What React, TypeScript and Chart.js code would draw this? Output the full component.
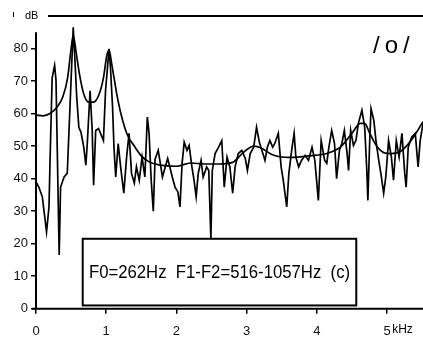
import { useEffect, useRef } from "react";
import { Chart, registerables } from "chart.js";
Chart.register(...registerables);

// Spectrum (jagged) – frequency in kHz, level in dB
const specFreq = [
  0.0, 0.04, 0.09, 0.15, 0.185, 0.2, 0.23, 0.265, 0.285, 0.33, 0.35, 0.4, 0.445, 0.48, 0.53, 0.55, 0.58, 0.61, 0.64, 0.68,
  0.71, 0.73, 0.77, 0.8, 0.82, 0.85, 0.89, 0.96, 0.99, 1.04, 1.06, 1.09, 1.11, 1.135, 1.17, 1.205, 1.25, 1.29, 1.325, 1.36,
  1.4, 1.43, 1.47, 1.51, 1.55, 1.585, 1.61, 1.64, 1.67, 1.695, 1.74, 1.77, 1.8, 1.84, 1.875, 1.91, 1.94, 1.98, 2.02, 2.05,
  2.08, 2.11, 2.15, 2.18, 2.22, 2.25, 2.28, 2.31, 2.35, 2.38, 2.43, 2.46, 2.49, 2.51, 2.55, 2.6, 2.645, 2.68, 2.72, 2.76,
  2.8, 2.835, 2.88, 2.93, 2.98, 3.01, 3.05, 3.1, 3.14, 3.18, 3.23, 3.26, 3.295, 3.33, 3.37, 3.4, 3.45, 3.49, 3.52, 3.57,
  3.6, 3.64, 3.675, 3.7, 3.74, 3.78, 3.83, 3.88, 3.93, 3.97, 4.02, 4.06, 4.11, 4.14, 4.17, 4.21, 4.25, 4.28, 4.32, 4.355,
  4.39, 4.43, 4.45, 4.48, 4.52, 4.555, 4.59, 4.64, 4.68, 4.71, 4.725, 4.75, 4.77, 4.81, 4.84, 4.88, 4.91, 4.95, 4.98, 5.02,
  5.06, 5.09, 5.13, 5.17, 5.21, 5.25, 5.27, 5.3, 5.35, 5.4, 5.44, 5.47, 5.51,
];
const specDb = [
  39.0, 37.4, 34.4, 23.6, 31.3, 45.6, 71, 74.8, 70.2, 16.5, 37.4, 40.5, 41.6, 60, 86.5, 78.4, 65, 55.8, 54.3, 49.7,
  44.1, 50.8, 67, 55, 38, 54.8, 55.4, 51.7, 67, 79.9, 74.2, 62, 49.7, 40.5, 50.8, 43.6, 35.5, 46.6, 53.9, 41.6,
  38.6, 43.6, 39.5, 46.6, 40.5, 58.9, 53.9, 39.5, 30, 46, 48.7, 44.7, 40.5, 43.6, 46.2, 43.2, 40.5, 37.4, 35.9, 31.3,
  44.7, 51.2, 48.7, 50.2, 43.6, 39.5, 34.4, 41.6, 45.6, 40.5, 43.6, 42.5, 21.5, 42.5, 47.7, 49.7, 51.7, 37.4, 46.6, 43.6,
  35.5, 43.6, 47.7, 48.7, 46.2, 42.5, 47.7, 49.7, 55.8, 51.2, 47.7, 45.6, 49.7, 51.7, 49.7, 50.8, 53.9, 43.6, 39.5, 31.3,
  41.6, 48.7, 53.9, 46.6, 43.6, 45.6, 47.1, 45.6, 49.7, 45.6, 33.3, 51.7, 45.6, 44.7, 49.7, 54.8, 50.8, 40, 48.7, 50.8,
  54.8, 47.7, 42.5, 54.8, 50.2, 51.7, 57, 61, 55.8, 42.5, 33.3, 50.8, 61.5, 57.9, 51.7, 45.6, 41.6, 35.5, 40.5, 51.7,
  46.6, 39.5, 51.7, 46.6, 53.9, 41.6, 37.4, 49.7, 52.8, 53.9, 43.6, 51.7, 57,
];

// Smooth envelope
const envFreq = [
  0, 0.1, 0.2, 0.3, 0.38, 0.45, 0.5, 0.53, 0.57, 0.62, 0.68, 0.75, 0.82, 0.9, 0.96, 1.01, 1.04, 1.08, 1.15, 1.22,
  1.3, 1.4, 1.5, 1.6, 1.75, 2.0, 2.2, 2.4, 2.6, 2.8, 2.95, 3.1, 3.2, 3.35, 3.6, 3.9, 4.15, 4.35, 4.5, 4.62,
  4.68, 4.75, 4.85, 4.95, 5.05, 5.2, 5.35, 5.51,
];
const envDb = [
  59.5, 59.3, 60, 62, 65, 71, 80, 84, 79, 72, 66, 63.5, 63.5, 66, 71, 78, 79.5, 75, 66, 59,
  53.5, 50, 47, 45.3, 44.2, 43.8, 44.8, 44.5, 44.5, 45, 48, 50, 49.5, 47.5, 46.5, 47, 47.8, 50, 54, 57,
  57, 54, 50, 48, 47.7, 48.5, 52, 57.5,
];

const yTicks = [0, 10, 20, 30, 40, 50, 60, 70, 80];
const xTicks = [0, 1, 2, 3, 4, 5];
const vowelLabel = "/o/";
const captionText = "F0=262Hz  F1-F2=516-1057Hz  (c)";
const yUnit = "dB";
const xUnit = "kHz";

const FONT = "'Liberation Sans', Arial, sans-serif";

const overlay = {
  id: "overlay",
  afterDatasetsDraw(chart: any) {
    const { ctx, chartArea, scales } = chart;
    const x = scales.x;
    const y = scales.y;
    const x0 = x.getPixelForValue(0);
    const y0 = y.getPixelForValue(0);
    ctx.save();
    ctx.strokeStyle = "#000";
    ctx.fillStyle = "#000";
    ctx.lineWidth = 2;
    // y axis
    ctx.beginPath();
    ctx.moveTo(x0, y0);
    ctx.lineTo(x0, y.getPixelForValue(85));
    ctx.stroke();
    // x axis
    ctx.beginPath();
    ctx.moveTo(x0 - 4, y0);
    ctx.lineTo(chartArea.right, y0);
    ctx.stroke();
    // top rule
    const yt = y.getPixelForValue(90);
    ctx.beginPath();
    ctx.moveTo(48, yt);
    ctx.lineTo(chartArea.right, yt);
    ctx.stroke();
    // small mark
    ctx.lineWidth = 1;
    ctx.beginPath();
    ctx.moveTo(13.5, 12);
    ctx.lineTo(13.5, 17);
    ctx.stroke();
    // dB
    ctx.font = `11px ${FONT}`;
    ctx.textAlign = "left";
    ctx.textBaseline = "middle";
    ctx.fillText(yUnit, 25, yt);
    // kHz
    ctx.font = `12px ${FONT}`;
    ctx.textBaseline = "top";
    ctx.fillText(xUnit, x.getPixelForValue(5) + 5, y0 + 5 + 10);
    // vowel label
    ctx.font = `24px ${FONT}`;
    ctx.textBaseline = "middle";
    (ctx as any).letterSpacing = "5px";
    ctx.fillText(vowelLabel, 373, 46);
    (ctx as any).letterSpacing = "0px";
    // caption box
    const bx1 = x.getPixelForValue(0.665);
    const bx2 = x.getPixelForValue(4.56);
    const by1 = y.getPixelForValue(21.5);
    const by2 = y.getPixelForValue(1.0);
    ctx.fillStyle = "#fff";
    ctx.fillRect(bx1, by1, bx2 - bx1, by2 - by1);
    ctx.lineWidth = 2;
    ctx.strokeRect(bx1, by1, bx2 - bx1, by2 - by1);
    ctx.fillStyle = "#000";
    ctx.font = `19px ${FONT}`;
    ctx.textAlign = "center";
    ctx.textBaseline = "middle";
    const cx = (bx1 + bx2) / 2;
    const cy = (by1 + by2) / 2 + 1;
    ctx.translate(cx, cy);
    ctx.scale(0.88, 1);
    ctx.fillText(captionText, 0, 0);
    ctx.restore();
  },
};

export default function App() {
  const ref = useRef<HTMLCanvasElement>(null);
  useEffect(() => {
    if (!ref.current) return;
    const chart = new Chart(ref.current, {
      type: "line",
      data: {
        datasets: [
          {
            data: envFreq.map((f, i) => ({ x: f, y: envDb[i] })),
            borderColor: "#000",
            borderWidth: 1.7,
            pointRadius: 0,
            cubicInterpolationMode: "monotone",
            fill: false,
          },
          {
            data: specFreq.map((f, i) => ({ x: f, y: specDb[i] })),
            borderColor: "#000",
            borderWidth: 1.7,
            pointRadius: 0,
            tension: 0,
            fill: false,
          },
        ],
      },
      plugins: [overlay],
      options: {
        animation: false,
        responsive: false,
        events: [],
        layout: { padding: { top: 16, left: 0, right: 0, bottom: 0 } },
        plugins: { legend: { display: false }, tooltip: { enabled: false } },
        scales: {
          x: {
            type: "linear",
            min: 0,
            max: 5.51,
            afterFit: (s: any) => {
              s.height = 35.3;
            },
            afterBuildTicks: (s: any) => {
              s.ticks = xTicks.map((v) => ({ value: v }));
            },
            border: { display: false },
            grid: { drawOnChartArea: false, drawTicks: true, tickLength: 5, color: "#000", lineWidth: 1.5 },
            ticks: { color: "#111", font: { family: FONT, size: 13 }, padding: 10, maxRotation: 0, autoSkip: false },
          },
          y: {
            type: "linear",
            min: 0,
            max: 90,
            afterFit: (s: any) => {
              s.width = 36;
            },
            afterBuildTicks: (s: any) => {
              s.ticks = yTicks.map((v) => ({ value: v }));
            },
            border: { display: false },
            grid: { drawOnChartArea: false, drawTicks: true, tickLength: 5, color: "#000", lineWidth: 1.5 },
            ticks: { color: "#111", font: { family: FONT, size: 13 }, padding: 3, autoSkip: false },
          },
        },
      },
    });
    return () => chart.destroy();
  }, []);
  return (
    <div style={{ position: "fixed", left: 0, top: 0, width: 423, height: 344, background: "#fff" }}>
      <canvas ref={ref} width={423} height={344} style={{ display: "block" }} />
    </div>
  );
}
